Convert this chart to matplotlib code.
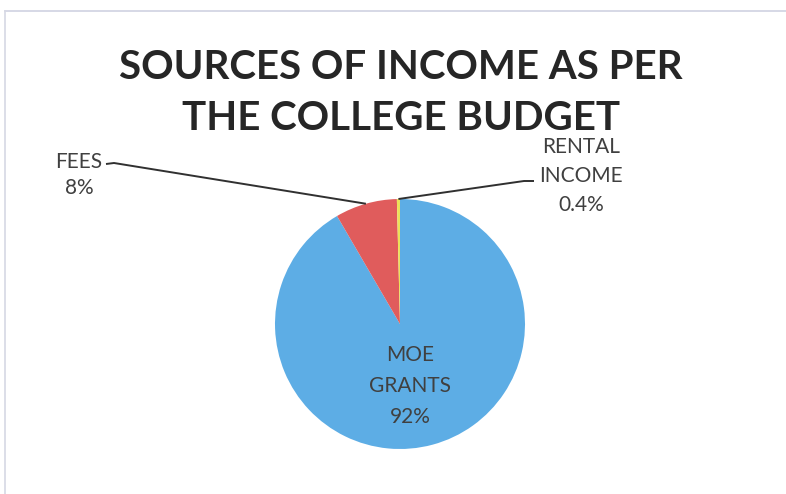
import matplotlib
matplotlib.use("Agg")
import matplotlib.pyplot as plt
from matplotlib.lines import Line2D
import numpy as np

# data
categories = ["MOE\nGRANTS", "FEES", "RENTAL\nINCOME"]
values = [91.6, 8.0, 0.4]
pct_labels = ["92%", "8%", "0.4%"]
colors = ["#5dade5", "#e05c5c", "#ece15a"]

title = "SOURCES OF INCOME AS PER\nTHE COLLEGE BUDGET"

plt.rcParams["font.family"] = ["Lato", "DejaVu Sans"]

W, H = 786, 494
fig = plt.figure(figsize=(W / 100, H / 100), dpi=100)
fig.patch.set_facecolor("white")

# pie axes: centre ~ (400, 324) px, radius ~ 125 px
cx, cy, r = 400, 324, 125
ax = fig.add_axes([(cx - r) / W, (H - cy - r) / H, 2 * r / W, 2 * r / H])

wedges, _ = ax.pie(values, colors=colors, startangle=90, counterclock=False,
                   radius=1, wedgeprops=dict(linewidth=0))
ax.set_xlim(-1, 1)
ax.set_ylim(-1, 1)
ax.axis("off")

def px(x, y):
    # pixel position -> data coords of the pie axes
    return (x - cx) / r, (cy - y) / r

txt_col = "#404040"

# label inside the big slice
ax.text(*px(410, 386), categories[0] + "\n" + pct_labels[0], ha="center", va="center",
        fontsize=15, color=txt_col, linespacing=1.7)

# FEES label with leader
w = wedges[1]
a = np.deg2rad((w.theta1 + w.theta2) / 2)
ex, ey = np.cos(a), np.sin(a)
ax.text(*px(79, 175), categories[1] + "\n" + pct_labels[1], ha="center", va="center",
        fontsize=15, color=txt_col, linespacing=1.35)
p1 = px(106, 164)
p2 = px(114, 163)
ax.plot([p1[0], p2[0], ex], [p1[1], p2[1], ey], color="#303030", lw=1.4,
        clip_on=False, solid_capstyle="butt")

# RENTAL INCOME label with leader
w = wedges[2]
a = np.deg2rad((w.theta1 + w.theta2) / 2)
ex, ey = np.cos(a), np.sin(a)
ax.text(*px(581, 176), categories[2] + "\n" + pct_labels[2], ha="center", va="center",
        fontsize=15, color=txt_col, linespacing=1.55)
p1 = px(524, 181)
p2 = px(534, 181)
ax.plot([ex, p1[0], p2[0]], [ey, p1[1], p2[1]], color="#303030", lw=1.4,
        clip_on=False, solid_capstyle="butt")

fig.text(401 / W, 1 - 93 / H, title, ha="center", va="center", fontsize=29,
         fontweight="bold", color="#262626", linespacing=1.45)

# chart frame (top and left edges visible)
fig.add_artist(Line2D([5 / W, 1], [1 - 11 / H, 1 - 11 / H], color="#cfd2e2", lw=1.2))
fig.add_artist(Line2D([5 / W, 5 / W], [0, 1 - 11 / H], color="#d6d8e4", lw=1.2))

fig.savefig("out.png", dpi=100, facecolor="white")
